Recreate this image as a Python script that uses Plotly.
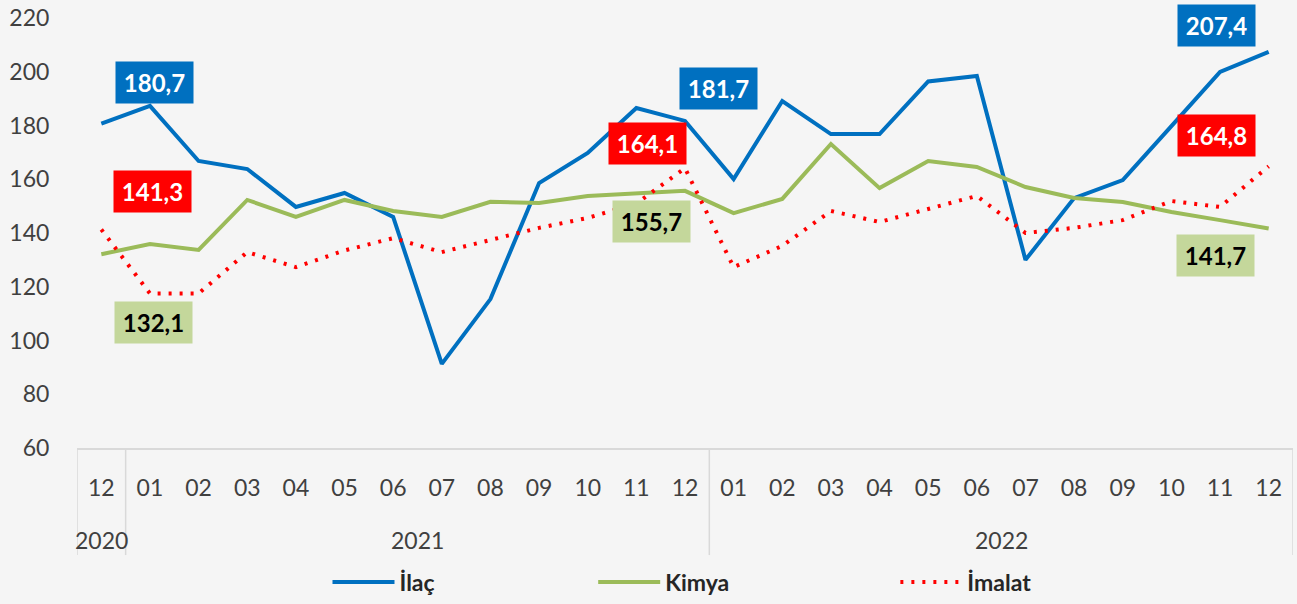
import plotly.graph_objects as go

# ---- data ----
years = ["2020"] + ["2021"] * 12 + ["2022"] * 12
months = ["12", "01", "02", "03", "04", "05", "06", "07", "08", "09", "10", "11", "12",
          "01", "02", "03", "04", "05", "06", "07", "08", "09", "10", "11", "12"]
ilac = [180.7, 187.3, 166.8, 163.8, 149.7, 154.9, 146.0, 91.3, 115.4, 158.6, 169.8, 186.5, 181.7,
        160.1, 189.1, 176.8, 176.8, 196.4, 198.4, 130.0, 153.0, 159.7, 179.8, 199.9, 207.4]
kimya = [132.1, 135.9, 133.7, 152.3, 146.0, 152.3, 148.2, 146.0, 151.6, 151.2, 153.8, 154.9, 155.7,
         147.4, 152.7, 173.1, 156.7, 166.8, 164.6, 157.1, 153.0, 151.5, 147.8, 144.8, 141.7]
imalat = [141.3, 117.5, 117.5, 132.9, 127.3, 133.5, 138.1, 132.9, 137.4, 141.9, 145.6, 151.0, 164.1,
          127.3, 135.2, 148.2, 144.1, 149.1, 153.8, 140.0, 141.9, 144.8, 151.9, 149.7, 164.8]
series_names = ["İlaç", "Kimya", "İmalat"]
labeled_points = [0, 12, 24]

# ---- styles ----
BG = "#f5f5f5"
FONT = "Lato"
TXT = "#404040"
colors = {"İlaç": "#0070c0", "Kimya": "#9bbb59", "İmalat": "#ff0000"}
box_colors = {"İlaç": "#0070c0", "Kimya": "#c4d79b", "İmalat": "#ff0000"}
box_text = {"İlaç": "white", "Kimya": "black", "İmalat": "white"}
# pixel offsets of label boxes from their points (dx right, dy down)
label_offsets = {
    "İlaç": {0: (53, -41), 12: (33, -32), 24: (-52, -26)},
    "Kimya": {0: (52, 68), 12: (-34, 31), 24: (-53, 27)},
    "İmalat": {0: (51, -38), 12: (-38, -25), 24: (-52, -31)},
}
legend_x = {"İlaç": 0.206, "Kimya": 0.4245, "İmalat": 0.673}

values = {"İlaç": ilac, "Kimya": kimya, "İmalat": imalat}
xs = list(range(len(months)))

fig = go.Figure()
legend_ids = ["legend", "legend2", "legend3"]
for name, lid in zip(series_names, legend_ids):
    line = dict(color=colors[name], width=4)
    if name == "İmalat":
        line["dash"] = "3px,8px"
    fig.add_trace(go.Scatter(x=xs, y=values[name], mode="lines", name=name, line=line,
                             legend=lid))

annotations = []
for name in series_names:
    for i in labeled_points:
        dx, dy = label_offsets[name][i]
        annotations.append(dict(
            x=i, y=values[name][i], xref="x", yref="y",
            text=f"{values[name][i]:.1f}".replace(".", ","),
            showarrow=False, xanchor="center", yanchor="middle",
            xshift=dx, yshift=-dy,
            bgcolor=box_colors[name], width=73, height=37, borderpad=2,
            font=dict(family=FONT, size=24, color=box_text[name], weight="bold"),
        ))

# year group labels and separators
groups = []
for i, y in enumerate(years):
    if not groups or groups[-1][0] != y:
        groups.append([y, i, i])
    else:
        groups[-1][2] = i
shapes = []
sep_bottom = -0.249
for y, a, b in groups:
    annotations.append(dict(x=(a + b) / 2, y=-0.214, xref="x", yref="paper", text=y,
                            showarrow=False, xanchor="center", yanchor="middle",
                            font=dict(family=FONT, size=23, color=TXT)))
    shapes.append(dict(type="line", xref="x", yref="paper", x0=a - 0.5, x1=a - 0.5,
                       y0=0, y1=sep_bottom, line=dict(color="#d9d9d9", width=1.5)))
shapes.append(dict(type="line", xref="x", yref="paper", x0=len(xs) - 0.5, x1=len(xs) - 0.5,
                   y0=0, y1=sep_bottom, line=dict(color="#d9d9d9", width=1.5)))

leg_common = dict(orientation="h", y=-0.312, yanchor="middle", xanchor="left",
                  bgcolor="rgba(0,0,0,0)", itemwidth=62,
                  font=dict(family=FONT, size=23, color="#262626", weight="bold"))

fig.update_layout(
    width=1297, height=604,
    margin=dict(l=77, r=4, t=18, b=156, autoexpand=False),
    paper_bgcolor=BG, plot_bgcolor=BG,
    showlegend=True,
    legend=dict(x=legend_x["İlaç"], **leg_common),
    legend2=dict(x=legend_x["Kimya"], **leg_common),
    legend3=dict(x=legend_x["İmalat"], **leg_common),
    annotations=annotations, shapes=shapes,
    xaxis=dict(range=[-0.5, len(xs) - 0.5], tickmode="array", tickvals=xs, ticktext=months,
               showgrid=False, zeroline=False, showline=True, linecolor="#d9d9d9", linewidth=1.5,
               ticks="outside", ticklen=19, tickcolor="rgba(0,0,0,0)", automargin=False,
               tickfont=dict(family=FONT, size=23, color=TXT)),
    yaxis=dict(range=[60, 220], tickmode="linear", tick0=60, dtick=20,
               showgrid=False, zeroline=False, showline=False, automargin=False,
               ticks="outside", ticklen=22, tickcolor="rgba(0,0,0,0)",
               tickfont=dict(family=FONT, size=23, color=TXT)),
)

fig.write_html("out.html",
               config={"displayModeBar": False},
               post_script="document.body.style.margin='0';"
                           "document.body.style.background='" + BG + "';"
                           "document.body.style.overflow='hidden';")
